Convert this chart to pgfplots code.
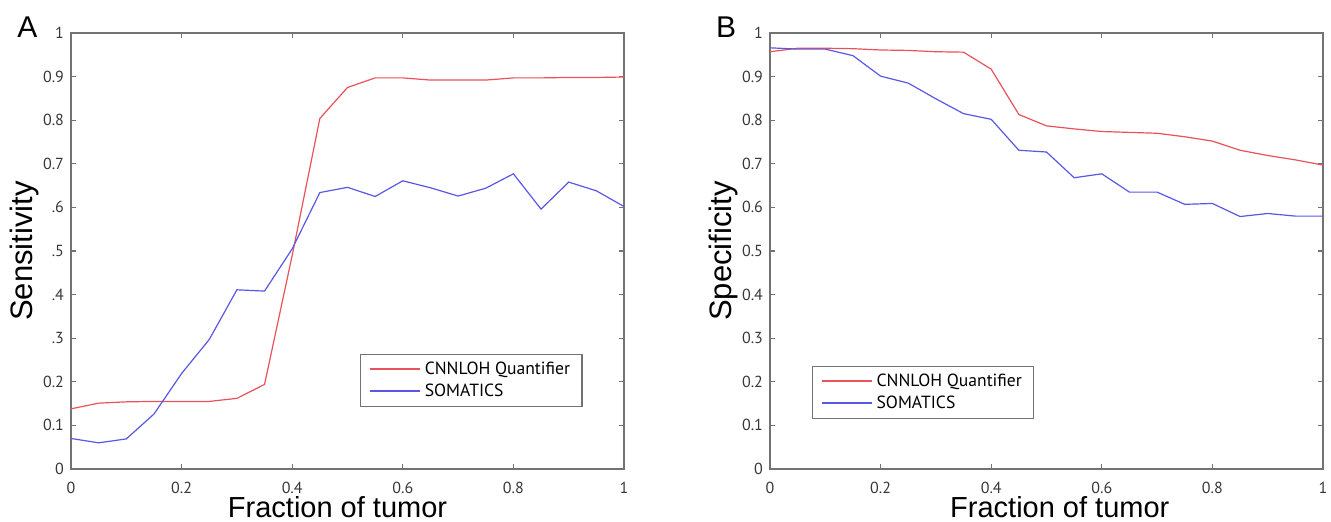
\documentclass[border=0pt]{standalone}
\usepackage{fontspec}
\setmainfont{Liberation Sans}
\newfontfamily\tickfont{PT Sans}
\usepackage{pgfplots}
\pgfplotsset{compat=1.18}
\definecolor{cnred}{RGB}{232,82,90}
\definecolor{somblue}{RGB}{88,88,228}
\definecolor{axgray}{RGB}{115,115,115}
\definecolor{lblgray}{RGB}{55,55,55}

\pgfplotsset{
  panel/.style={
    scale only axis, width=276.5pt, height=218pt,
    xmin=0, xmax=1, ymin=0, ymax=1,
    xtick={0,0.2,0.4,0.6,0.8,1},
    xticklabels={0,0.2,0.4,0.6,0.8,1},
    ytick={0,0.1,0.2,0.3,0.4,0.5,0.6,0.7,0.8,0.9,1},
    axis line style={axgray, line width=0.8pt},
    tick style={axgray, line width=0.6pt},
    major tick length=2.5pt,
    tick align=inside,
    ticklabel style={font=\tickfont\fontsize{8}{9}\selectfont, text=lblgray},
    xticklabel style={yshift=-3pt},
    xlabel={Fraction of tumor},
    label style={font=\fontsize{14.5}{17}\selectfont},
    ylabel style={at={(axis description cs:-0.069,0.5)}, anchor=base, rotate=0,
      font=\fontsize{15.5}{18}\selectfont},
    legend style={draw=axgray, line width=0.6pt, font=\tickfont\fontsize{8.8}{10}\selectfont,
      anchor=north west, inner xsep=4pt, inner ysep=1.5pt, row sep=-0.5pt},
    legend cell align=left,
    every axis plot/.append style={line width=0.6pt},
  },
  redline/.style={draw=cnred,
    legend image code/.code={\draw[draw=cnred, line width=1pt] (0pt,0.25pt) -- (25pt,0.25pt);}},
  blueline/.style={draw=somblue,
    legend image code/.code={\draw[draw=somblue, line width=1pt] (0pt,0.25pt) -- (25pt,0.25pt);}},
}

\begin{document}
\begin{tikzpicture}
\useasboundingbox (0,0) rectangle (665.5pt,261pt);

% Panel A: sensitivity
\begin{axis}[panel, at={(35.5pt,26.5pt)}, anchor=south west,
    ylabel={Sensitivity},
    yticklabels={0,0.1,0.2,.3,.4,.5,.6,0.7,0.8,0.9,1},
    xlabel style={at={(axis description cs:0.482,-0.1124)}, anchor=base},
    legend style={at={(0.523,0.264)}}]
\addplot[redline] coordinates {
  (0,0.138) (0.05,0.151) (0.1,0.154) (0.15,0.155) (0.2,0.155) (0.25,0.155)
  (0.3,0.162) (0.35,0.194) (0.4,0.49) (0.45,0.804) (0.5,0.875) (0.55,0.897)
  (0.6,0.897) (0.65,0.892) (0.7,0.892) (0.75,0.892) (0.8,0.897) (0.85,0.897)
  (0.9,0.898) (0.95,0.898) (1,0.899)
};
\addlegendentry{CNNLOH Quantifier}
\addplot[blueline] coordinates {
  (0,0.070) (0.05,0.060) (0.1,0.069) (0.15,0.126) (0.2,0.219) (0.25,0.297)
  (0.3,0.411) (0.35,0.408) (0.4,0.505) (0.45,0.634) (0.5,0.646) (0.55,0.625)
  (0.6,0.661) (0.65,0.645) (0.7,0.626) (0.75,0.644) (0.8,0.677) (0.85,0.596)
  (0.9,0.658) (0.95,0.638) (1,0.602)
};
\addlegendentry{SOMATICS}
\end{axis}

% Panel B: specificity
\begin{axis}[panel, at={(385pt,26.5pt)}, anchor=south west,
    ylabel={Specificity},
    yticklabels={0,0.1,0.2,0.3,0.4,0.5,0.6,0.7,0.8,0.9,1},
    xlabel style={at={(axis description cs:0.524,-0.1124)}, anchor=base},
    legend style={at={(0.076,0.236)}}]
\addplot[redline] coordinates {
  (0,0.957) (0.05,0.965) (0.1,0.965) (0.15,0.964) (0.2,0.961) (0.25,0.960)
  (0.3,0.957) (0.35,0.956) (0.4,0.917) (0.45,0.813) (0.5,0.787) (0.55,0.780)
  (0.6,0.774) (0.65,0.772) (0.7,0.770) (0.75,0.762) (0.8,0.752) (0.85,0.731)
  (0.9,0.719) (0.95,0.709) (1,0.697)
};
\addlegendentry{CNNLOH Quantifier}
\addplot[blueline] coordinates {
  (0,0.966) (0.05,0.963) (0.1,0.963) (0.15,0.948) (0.2,0.901) (0.25,0.885)
  (0.3,0.849) (0.35,0.815) (0.4,0.802) (0.45,0.731) (0.5,0.727) (0.55,0.668)
  (0.6,0.677) (0.65,0.635) (0.7,0.635) (0.75,0.607) (0.8,0.609) (0.85,0.579)
  (0.9,0.586) (0.95,0.580) (1,0.580)
};
\addlegendentry{SOMATICS}
\end{axis}

\node[font=\fontsize{15}{18}\selectfont, inner sep=0pt] at (13.75pt,247.5pt) {A};
\node[font=\fontsize{15}{18}\selectfont, inner sep=0pt] at (363pt,247.5pt) {B};
\end{tikzpicture}
\end{document}
